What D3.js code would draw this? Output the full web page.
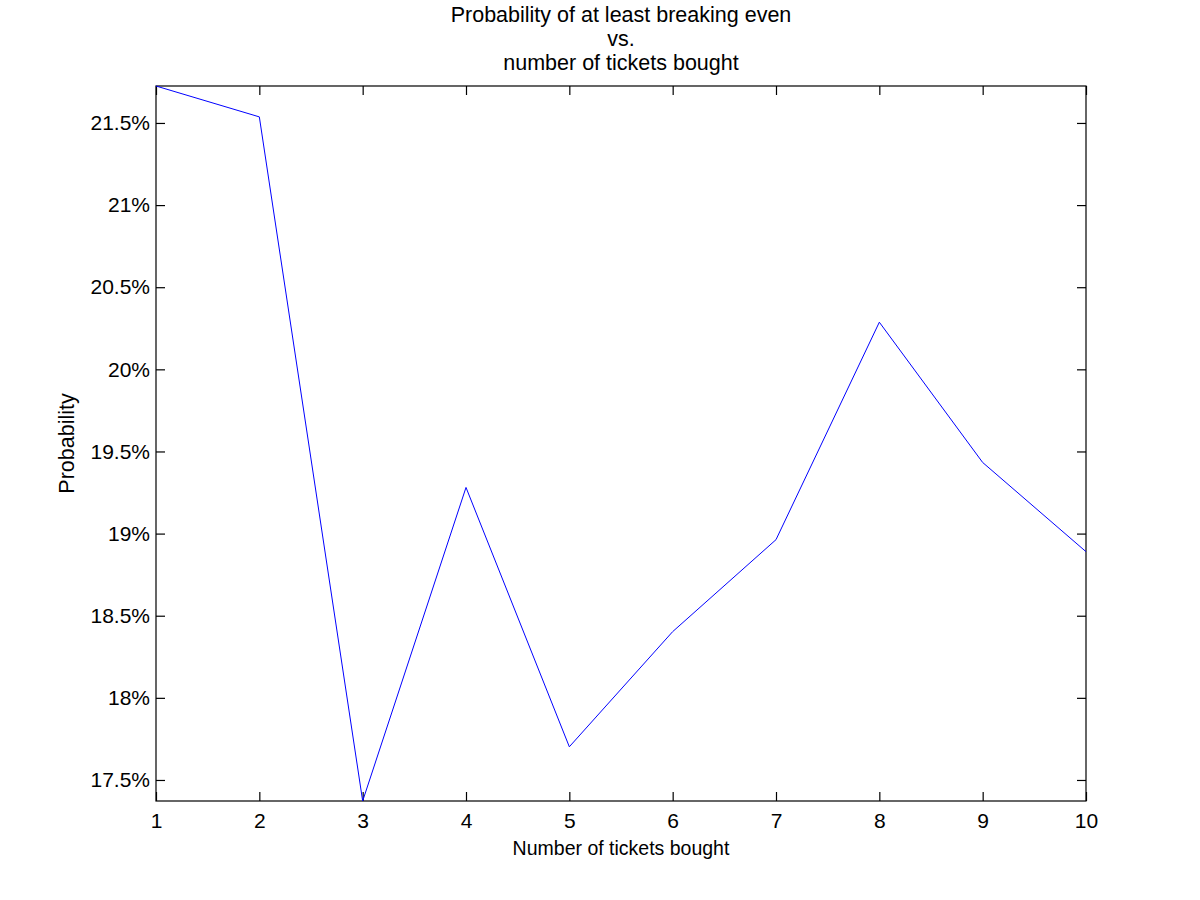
<!DOCTYPE html>
<html><head><meta charset="utf-8">
<script src="https://cdn.jsdelivr.net/npm/d3@7"></script>
<style>body{margin:0;background:#fff;} text{font-family:Arial,"Liberation Sans",Helvetica,sans-serif;}</style>
</head><body>
<svg id="c" width="1200" height="900"></svg>
<script>
const tickets = [1,2,3,4,5,6,7,8,9,10];
const probability = [21.725,21.537,17.372,19.281,17.702,18.403,18.963,20.287,19.433,18.890];
const yTicks = [17.5,18,18.5,19,19.5,20,20.5,21,21.5];
const titleLines = ["Probability of at least breaking even","vs.","number of tickets bought"];

const svg = d3.select("#c");
const L=156, R=1086, T=86, B=801;
const x = d3.scaleLinear().domain([1,10]).range([L,R]);
const y = d3.scaleLinear().domain(d3.extent(probability)).range([B,T]);
const fmt = d => d + "%";

const g = svg.append("g");
const xb = g.append("g").attr("transform",`translate(0,${B})`)
  .call(d3.axisBottom(x).tickValues(tickets).tickSize(-9).tickPadding(12).tickFormat(d3.format("d")));
const xt = g.append("g").attr("transform",`translate(0,${T})`)
  .call(d3.axisTop(x).tickValues(tickets).tickSize(-9).tickFormat(""));
const yl = g.append("g").attr("transform",`translate(${L},0)`)
  .call(d3.axisLeft(y).tickValues(yTicks).tickSize(-9).tickPadding(6).tickFormat(fmt));
const yr = g.append("g").attr("transform",`translate(${R},0)`)
  .call(d3.axisRight(y).tickValues(yTicks).tickSize(-9).tickFormat(""));
[xb,xt,yl,yr].forEach(a=>{
  a.select(".domain").remove();
  a.selectAll(".tick line").attr("stroke","#000").attr("stroke-width",1.2);
  a.selectAll(".tick text").attr("fill","#000").style("font-size","21px");
});
g.append("rect").attr("x",L).attr("y",T).attr("width",R-L).attr("height",B-T)
  .attr("fill","none").attr("stroke","#000").attr("stroke-width",1.2);

g.append("path").datum(tickets.map((t,i)=>[t,probability[i]]))
  .attr("fill","none").attr("stroke","#0000ff").attr("stroke-width",1)
  .attr("d", d3.line().x(d=>x(d[0])).y(d=>y(d[1])));

svg.append("text").attr("text-anchor","middle").attr("x",(L+R)/2).attr("y",22)
  .style("font-size","21.5px").attr("fill","#000")
  .selectAll("tspan").data(titleLines).join("tspan")
  .attr("x",(L+R)/2).attr("dy",(d,i)=>i?24:0).text(d=>d);

svg.append("text").attr("text-anchor","middle").attr("x",(L+R)/2).attr("y",855)
  .style("font-size","19.5px").attr("fill","#000").text("Number of tickets bought");
svg.append("text").attr("text-anchor","middle")
  .attr("transform",`translate(74,${(T+B)/2}) rotate(-90)`)
  .style("font-size","21.5px").attr("fill","#000").text("Probability");
</script>
</body></html>
